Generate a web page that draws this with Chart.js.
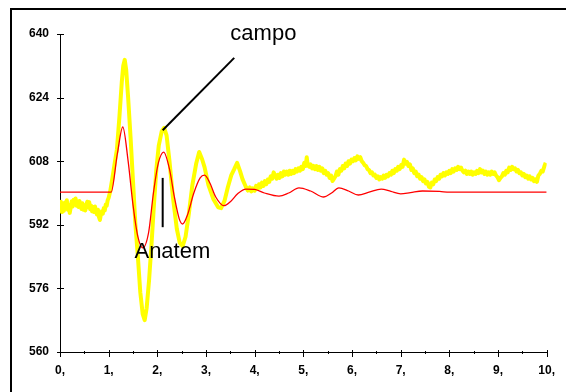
<!DOCTYPE html>
<html>
<head>
<meta charset="utf-8">
<script src="https://cdn.jsdelivr.net/npm/chart.js@4"></script>
<style>
  html, body { margin: 0; padding: 0; background: #fff; }
  #wrap { position: relative; width: 566px; height: 392px; overflow: hidden; }
  #frame { position: absolute; left: 10px; top: 8px; width: 600px; height: 420px; border: 2px solid #000; }
  canvas { position: absolute; left: 0; top: 0; }
</style>
</head>
<body>
<div id="wrap">
  <div id="frame"></div>
  <canvas id="chart" width="566" height="392"></canvas>
</div>
<script>
// ---------------------------Data------------------------------------------------
const yTicks = [560, 576, 592, 608, 624, 640];
const xMin = 0, xMax = 10;

// simulated response (Anatem), red
const anatemData = [
  [0, 600.2], [1.05, 600.2], [1.18, 610], [1.29, 616.6], [1.40, 608], [1.50, 597],
  [1.60, 589], [1.70, 586.2], [1.82, 590], [1.92, 600], [2.02, 607.5], [2.13, 610.3],
  [2.25, 606], [2.35, 599], [2.45, 593.5], [2.52, 592.2], [2.62, 594.5], [2.75, 600],
  [2.88, 603.8], [2.97, 604.5], [3.08, 602.5], [3.20, 599], [3.37, 596.8], [3.50, 597.8],
  [3.65, 599.8], [3.82, 601.0], [4.0, 600.9], [4.2, 600.0], [4.5, 599.2], [4.7, 600.0],
  [4.91, 601.3], [5.15, 600.5], [5.42, 599.0], [5.58, 600], [5.73, 601.3], [5.93, 600.5],
  [6.13, 599.5], [6.35, 600.2], [6.6, 601.0], [6.8, 600.4], [7.0, 599.8], [7.2, 600.1],
  [7.45, 600.5], [7.8, 600.4], [8.0, 600.2], [9.0, 600.2], [10.0, 600.2]
];

// field measurement (campo), yellow
const campoData = [
  [0.00, 596.0], [0.02, 597.8], [0.04, 595.2], [0.06, 596.8], [0.08, 595.5], [0.10, 597.6],
  [0.12, 596.3], [0.14, 598.2], [0.16, 595.8], [0.18, 596.9], [0.20, 595.0], [0.22, 596.4],
  [0.24, 597.9], [0.26, 596.6], [0.28, 598.3], [0.30, 597.2], [0.32, 598.6], [0.34, 596.8],
  [0.36, 597.9], [0.38, 596.5], [0.40, 598.0], [0.42, 597.1], [0.44, 596.0], [0.46, 597.4],
  [0.48, 595.8], [0.50, 596.9], [0.52, 595.6], [0.54, 597.0], [0.56, 597.8], [0.58, 596.4],
  [0.60, 597.7], [0.62, 595.9], [0.64, 596.8], [0.66, 595.4], [0.68, 596.5], [0.70, 595.2],
  [0.72, 596.6], [0.74, 595.3], [0.76, 594.6], [0.78, 595.8], [0.80, 594.0], [0.82, 593.2],
  [0.84, 594.6], [0.86, 595.4], [0.88, 594.8], [0.90, 596.2], [0.92, 595.6], [0.94, 597.1],
  [0.96, 596.8], [0.98, 598.2], [1.00, 598.8], [1.03, 600.3],
  [1.08, 604], [1.13, 608], [1.17, 611], [1.22, 619], [1.27, 628], [1.30, 632],
  [1.33, 633.5], [1.36, 631], [1.40, 624], [1.45, 614], [1.50, 603], [1.55, 592],
  [1.60, 584], [1.65, 575], [1.70, 569.5], [1.74, 568], [1.78, 571], [1.83, 578],
  [1.88, 587], [1.93, 597], [1.98, 606], [2.03, 612], [2.09, 615.5], [2.14, 616.4],
  [2.19, 614.5], [2.25, 608], [2.32, 599], [2.40, 591], [2.46, 587.5], [2.52, 586.6],
  [2.58, 589], [2.65, 595], [2.72, 602], [2.80, 607.5], [2.86, 610.3], [2.92, 608.5],
  [2.97, 606.5], [3.05, 602], [3.15, 598.5], [3.25, 596.4], [3.31, 596.2], [3.38, 598],
  [3.45, 601.5], [3.52, 604.5], [3.58, 606], [3.64, 607.6], [3.70, 605.5], [3.75, 603.5],
  [3.82, 601.5], [3.86, 600.6], [3.90, 601.4], [3.93, 600.4], [3.96, 601.2], [4.00, 600.6],
  [4.03, 601.8], [4.06, 601.0], [4.09, 602.2], [4.12, 601.4], [4.15, 602.6], [4.18, 601.8],
  [4.21, 603.0], [4.24, 602.2], [4.27, 603.4], [4.30, 602.8], [4.33, 604.2], [4.36, 603.6],
  [4.39, 605.2], [4.42, 604.4], [4.45, 603.6], [4.48, 604.6], [4.51, 603.8], [4.54, 605.0],
  [4.57, 604.2], [4.60, 605.4], [4.63, 604.6], [4.66, 605.4], [4.69, 604.6], [4.72, 605.6],
  [4.75, 604.8], [4.78, 605.6], [4.81, 605.0], [4.84, 606.0], [4.87, 605.4], [4.90, 606.2],
  [4.93, 605.6], [4.96, 606.6], [4.99, 606.0], [5.02, 607.6], [5.05, 606.8], [5.07, 609.0],
  [5.09, 607.0], [5.12, 606.6], [5.15, 607.2], [5.18, 606.2], [5.21, 606.8], [5.24, 606.0],
  [5.27, 606.8], [5.30, 605.8], [5.33, 606.6], [5.36, 605.6], [5.39, 606.2], [5.42, 605.0],
  [5.45, 605.6], [5.48, 604.6], [5.51, 605.0], [5.54, 603.8], [5.57, 604.4], [5.60, 603.0],
  [5.63, 603.6], [5.66, 604.2], [5.69, 605.4], [5.72, 604.6], [5.75, 606.0], [5.78, 605.6],
  [5.81, 606.8], [5.84, 606.2], [5.87, 607.4], [5.90, 606.8], [5.93, 608.0], [5.96, 607.4],
  [5.99, 608.4], [6.02, 608.0], [6.05, 608.8], [6.08, 608.2], [6.11, 609.2], [6.14, 608.6],
  [6.17, 609.0], [6.20, 608.0], [6.23, 607.6], [6.26, 607.0], [6.29, 606.8], [6.32, 606.0],
  [6.35, 605.8], [6.38, 605.0], [6.41, 605.2], [6.44, 604.4], [6.47, 604.6], [6.50, 603.8],
  [6.53, 604.2], [6.56, 603.4], [6.59, 604.0], [6.62, 603.6], [6.65, 604.4], [6.68, 603.8],
  [6.71, 604.6], [6.74, 604.2], [6.77, 605.0], [6.80, 604.6], [6.83, 605.6], [6.86, 605.0],
  [6.89, 606.0], [6.92, 605.6], [6.95, 606.6], [6.98, 606.0], [7.01, 607.0], [7.04, 606.6],
  [7.07, 608.4], [7.10, 607.4], [7.13, 607.8], [7.16, 606.8], [7.19, 607.2], [7.22, 605.8],
  [7.25, 606.2], [7.28, 605.0], [7.31, 605.4], [7.34, 604.2], [7.37, 604.6], [7.40, 603.6],
  [7.43, 604.0], [7.46, 603.0], [7.49, 603.4], [7.52, 602.4], [7.55, 602.8], [7.58, 601.6],
  [7.61, 601.4], [7.64, 602.6], [7.67, 602.2], [7.70, 603.4], [7.73, 603.0], [7.76, 604.0],
  [7.79, 603.6], [7.82, 604.6], [7.85, 604.2], [7.88, 605.0], [7.91, 604.4], [7.94, 605.2],
  [7.97, 604.8], [8.00, 605.6], [8.03, 605.0], [8.06, 606.0], [8.09, 605.4], [8.12, 606.2],
  [8.15, 605.8], [8.18, 606.6], [8.21, 606.0], [8.24, 606.4], [8.27, 605.6], [8.30, 605.2],
  [8.33, 605.6], [8.36, 604.8], [8.39, 605.4], [8.42, 604.8], [8.45, 605.4], [8.48, 604.6],
  [8.51, 605.2], [8.54, 604.8], [8.57, 605.6], [8.60, 605.0], [8.63, 606.0], [8.66, 605.2],
  [8.69, 605.6], [8.72, 604.8], [8.75, 605.4], [8.78, 604.6], [8.81, 605.2], [8.84, 604.6],
  [8.87, 605.4], [8.90, 604.8], [8.93, 605.2], [8.96, 604.4], [8.99, 604.0], [9.02, 603.2],
  [9.05, 603.8], [9.08, 604.2], [9.11, 605.0], [9.14, 604.6], [9.17, 605.6], [9.20, 605.2],
  [9.23, 606.4], [9.26, 605.8], [9.29, 606.6], [9.32, 606.0], [9.35, 606.2], [9.38, 605.4],
  [9.41, 605.8], [9.44, 605.0], [9.47, 605.2], [9.50, 604.4], [9.53, 604.8], [9.56, 604.0],
  [9.59, 604.4], [9.62, 603.6], [9.65, 604.2], [9.68, 603.4], [9.71, 603.8], [9.74, 603.0],
  [9.77, 603.4], [9.80, 602.8], [9.83, 604.4], [9.86, 604.8], [9.89, 605.6], [9.92, 605.4],
  [9.95, 606.6], [9.98, 607.6]
];

// annotation labels, placed in data coordinates [x, y]
const labelCampo = { text: "campo", at: [3.50, 638.5], lineFrom: [3.58, 634.0], lineTo: [2.11, 615.8] };
const labelAnatem = { text: "Anatem", at: [1.53, 583.6], lineFrom: [2.11, 603.8], lineTo: [2.11, 591.4] };
// ----------------------------------------------------------------------------------------------

const toXY = (arr) => arr.map(([x, y]) => ({ x, y }));

// tick marks crossing the axes, with half-step minor ticks on x
const axisTicks = {
  id: "axisTicks",
  afterDraw(chart) {
    const { ctx, scales: { x, y }, chartArea } = chart;
    ctx.save();
    ctx.strokeStyle = "#000";
    ctx.lineWidth = 1;
    ctx.beginPath();
    yTicks.forEach((v) => {
      const py = Math.round(y.getPixelForValue(v)) + 0.5;
      ctx.moveTo(chartArea.left - 3, py);
      ctx.lineTo(chartArea.left + 4, py);
    });
    for (let v = xMin; v <= xMax; v += 0.5) {
      const px = Math.round(x.getPixelForValue(v)) + 0.5;
      const major = Number.isInteger(v);
      ctx.moveTo(px, chartArea.bottom - (major ? 2 : 1));
      ctx.lineTo(px, chartArea.bottom + (major ? 5 : 2));
    }
    ctx.stroke();
    ctx.restore();
  },
};

// "campo" / "Anatem" labels with their pointer lines
const annotations = {
  id: "annotations",
  afterDraw(chart) {
    const { ctx, scales: { x, y } } = chart;
    const px = (p) => [x.getPixelForValue(p[0]), y.getPixelForValue(p[1])];
    ctx.save();
    ctx.strokeStyle = "#000";
    ctx.fillStyle = "#000";
    ctx.lineWidth = 2;
    ctx.font = "22px 'Liberation Sans', Arial, sans-serif";
    ctx.textBaseline = "alphabetic";
    [labelCampo, labelAnatem].forEach((a) => {
      const [x1, y1] = px(a.lineFrom);
      const [x2, y2] = px(a.lineTo);
      ctx.beginPath();
      ctx.moveTo(x1, y1);
      ctx.lineTo(x2, y2);
      ctx.stroke();
      const [tx, ty] = px(a.at);
      ctx.fillText(a.text, tx, ty);
    });
    ctx.restore();
  },
};

const ctx = document.getElementById("chart").getContext("2d");
new Chart(ctx, {
  type: "line",
  data: {
    datasets: [
      {
        label: "Anatem",
        data: toXY(anatemData),
        borderColor: "#ff0000",
        borderWidth: 1.3,
        pointRadius: 0,
        cubicInterpolationMode: "monotone",
        order: 0,
      },
      {
        label: "campo",
        data: toXY(campoData),
        borderColor: "#ffff00",
        borderWidth: 4,
        borderJoinStyle: "round",
        pointRadius: 0,
        tension: 0,
        order: 1,
      },
    ],
  },
  options: {
    responsive: false,
    animation: false,
    events: [],
    layout: { padding: { left: 0, top: 34, right: 17, bottom: 0 } },
    plugins: { legend: { display: false }, tooltip: { enabled: false } },
    scales: {
      x: {
        type: "linear",
        min: xMin,
        max: xMax,
        afterFit: (s) => { s.height = 40; },
        grid: { display: false, drawTicks: false },
        border: { display: true, color: "#000", width: 1 },
        ticks: {
          stepSize: 1,
          padding: 11,
          color: "#000",
          font: { family: "'Liberation Sans', Arial", size: 12, weight: "bold" },
          callback: (v) => v + ",",
        },
      },
      y: {
        min: yTicks[0],
        max: yTicks[yTicks.length - 1],
        afterFit: (s) => { s.width = 60; },
        afterBuildTicks: (s) => { s.ticks = yTicks.map((v) => ({ value: v })); },
        grid: { display: false, drawTicks: false },
        border: { display: true, color: "#000", width: 1 },
        ticks: {
          padding: 11,
          color: "#000",
          font: { family: "'Liberation Sans', Arial", size: 12, weight: "bold" },
        },
      },
    },
  },
  plugins: [axisTicks, annotations],
});
</script>
</body>
</html>
